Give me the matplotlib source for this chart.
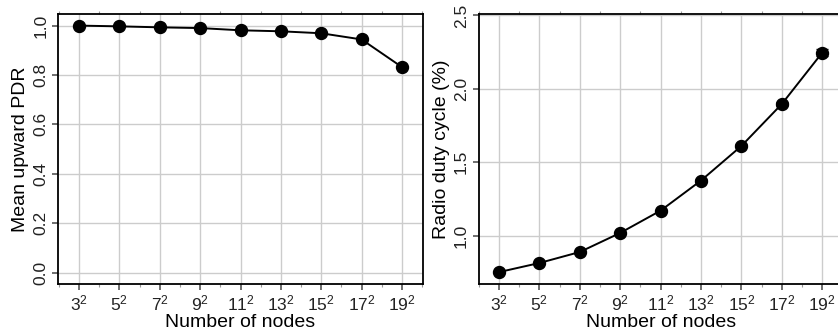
import numpy as np
import matplotlib
matplotlib.use("Agg")
import matplotlib.pyplot as plt
from matplotlib.ticker import MultipleLocator

plt.rcParams['font.family'] = ['Liberation Sans', 'DejaVu Sans']
plt.rcParams['mathtext.fontset'] = 'custom'
plt.rcParams['mathtext.rm'] = 'Liberation Sans'

# data
sides = [3, 5, 7, 9, 11, 13, 15, 17, 19]
tick_labels = [r'$\mathregular{%d^2}$' % s for s in sides]
pdr = [1.0, 0.997, 0.993, 0.99, 0.981, 0.977, 0.969, 0.944, 0.832]
duty = [0.751, 0.813, 0.888, 1.018, 1.17, 1.375, 1.611, 1.897, 2.247]
duty_err = [0.004, 0.004, 0.005, 0.005, 0.006, 0.008, 0.01, 0.012, 0.025]

W, H = 838, 335
fig = plt.figure(figsize=(W / 100, H / 100), dpi=100)

def style(ax):
    x = np.arange(len(sides))
    ax.set_xticks(x)
    ax.set_xticklabels(tick_labels)
    ax.xaxis.set_minor_locator(MultipleLocator(0.5))
    ax.grid(True, which='major', color='#cccccc', linewidth=1.0)
    ax.set_axisbelow(True)
    for sp in ax.spines.values():
        sp.set_linewidth(1.3)
        sp.set_color('black')
    ax.tick_params(axis='both', which='major', length=4, width=1.2, color='#555555',
                   labelsize=12.5, labelcolor='#222222', pad=3)
    ax.tick_params(axis='x', which='minor', length=2, width=0.8, color='#999999',
                   top=True, bottom=True)
    ax.tick_params(axis='y', which='major', labelrotation=90)
    for lbl in ax.get_yticklabels():
        lbl.set_va('center')
    ax.set_xlabel('Number of nodes', fontsize=14, labelpad=0)

# left panel
ax1 = fig.add_axes([58 / W, (H - 284) / H, 365 / W, 270 / H])
x = np.arange(len(sides))
ax1.plot(x, pdr, color='black', linewidth=1.4, marker='o', markersize=8.6)
ax1.set_xlim(-0.52, 8.52)
ax1.set_ylim(-0.046, 1.047)
ax1.set_yticks([0.0, 0.2, 0.4, 0.6, 0.8, 1.0])
style(ax1)
ax1.set_ylabel('Mean upward PDR', fontsize=14, labelpad=3)

# right panel (runs past the figure edge like the reference)
ax2 = fig.add_axes([478.7 / W, (H - 284) / H, (842.5 - 478.7) / W, 270 / H])
ax2.errorbar(x, duty, yerr=duty_err, color='black', linewidth=1.4, marker='o',
             markersize=8.6, capsize=4, elinewidth=1.2)
ax2.set_xlim(-0.5, 8.5)
ax2.set_ylim(0.67, 2.51)
ax2.set_yticks([1.0, 1.5, 2.0, 2.5])
style(ax2)
ax2.set_ylabel('Radio duty cycle (%)', fontsize=14, labelpad=3)

fig.savefig('out.png', dpi=100)
